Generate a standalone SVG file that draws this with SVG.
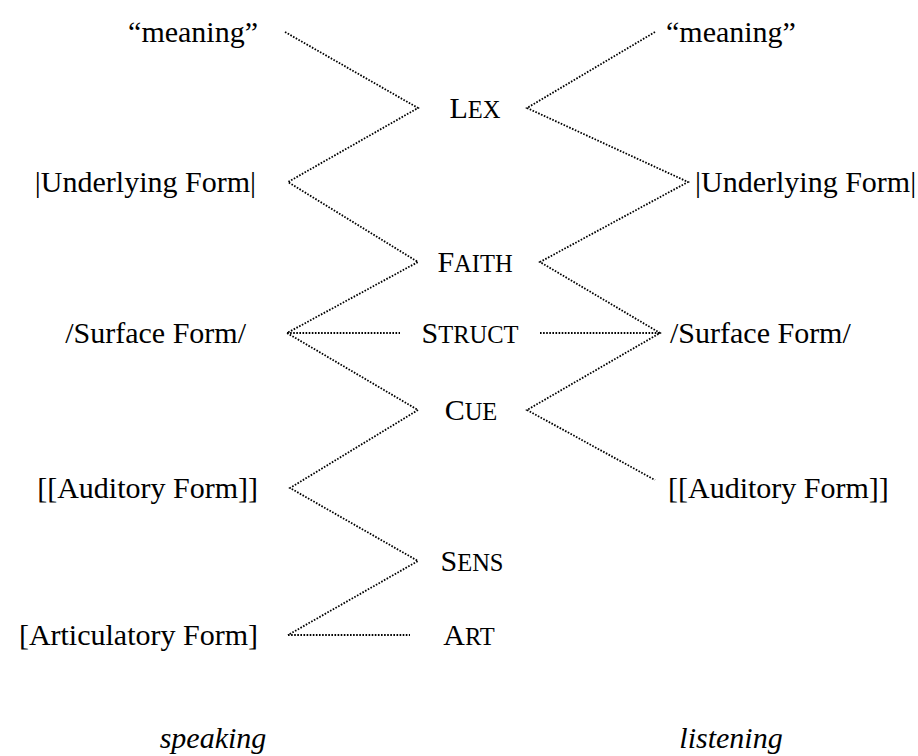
<svg xmlns="http://www.w3.org/2000/svg" width="918" height="756" viewBox="0 0 918 756">
<style>
.t{font-family:'Liberation Serif','Times New Roman',serif;font-size:30px;fill:#000}
.sc{font-size:24.5px}
.it{font-style:italic}
.d{fill:none;stroke:#000;stroke-width:1.8;stroke-dasharray:1.6 1.5}
</style>
<rect width="918" height="756" fill="#fff"/>
<g id="connectors">
<polyline class="d" points="285,32 418,108 288,182 418,262 287,333 418,410 290,488 418,561 288,635"/>
<polyline class="d" points="655,32 527,108 688,182 540,262 660,333 527,410 655,480"/>
<line class="d" x1="287" y1="333" x2="400" y2="333"/>
<line class="d" x1="540" y1="333" x2="660" y2="333"/>
<line class="d" x1="288" y1="635" x2="410" y2="635"/>
</g>
<g id="meaning-speak"><text class="t" x="258" y="42" text-anchor="end">“meaning”</text></g>
<g id="meaning-listen"><text class="t" x="666" y="42">“meaning”</text></g>
<g id="uf-speak"><text class="t" x="256" y="192" text-anchor="end">|Underlying Form|</text></g>
<g id="uf-listen"><text class="t" x="695" y="192">|Underlying Form|</text></g>
<g id="sf-speak"><text class="t" x="246" y="343" text-anchor="end">/Surface Form/</text></g>
<g id="sf-listen"><text class="t" x="670" y="343">/Surface Form/</text></g>
<g id="af-speak"><text class="t" x="258" y="498" text-anchor="end">[[Auditory Form]]</text></g>
<g id="af-listen"><text class="t" x="668" y="498">[[Auditory Form]]</text></g>
<g id="art-form"><text class="t" x="258" y="645" text-anchor="end">[Articulatory Form]</text></g>
<g id="lex"><text class="t" x="475" y="118" text-anchor="middle">L<tspan class="sc">EX</tspan></text></g>
<g id="faith"><text class="t" x="475" y="272" text-anchor="middle">F<tspan class="sc">AITH</tspan></text></g>
<g id="struct"><text class="t" x="470" y="343" text-anchor="middle">S<tspan class="sc">TRUCT</tspan></text></g>
<g id="cue"><text class="t" x="471" y="420" text-anchor="middle">C<tspan class="sc">UE</tspan></text></g>
<g id="sens"><text class="t" x="472" y="571" text-anchor="middle">S<tspan class="sc">ENS</tspan></text></g>
<g id="art"><text class="t" x="469" y="645" text-anchor="middle">A<tspan class="sc">RT</tspan></text></g>
<g id="speaking"><text class="t it" x="213" y="748" text-anchor="middle">speaking</text></g>
<g id="listening"><text class="t it" x="731" y="748" text-anchor="middle">listening</text></g>
</svg>
